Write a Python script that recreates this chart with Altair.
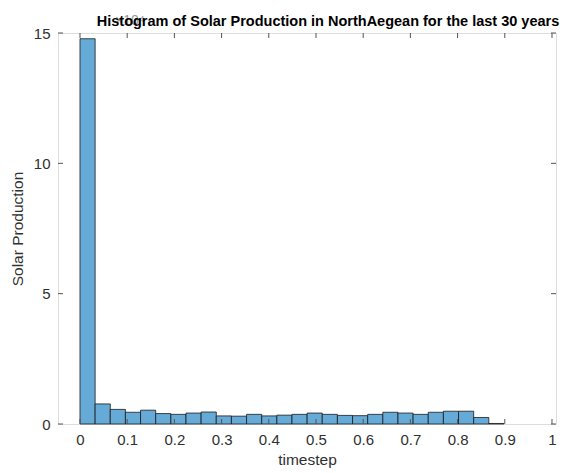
import altair as alt
import pandas as pd

# Histogram counts (in units of 10^4), 28 equal-width bins starting at 0
counts = [14.78, 0.77, 0.56, 0.45, 0.53, 0.40, 0.37, 0.42, 0.46, 0.31,
          0.30, 0.37, 0.31, 0.34, 0.37, 0.42, 0.37, 0.33, 0.32, 0.37,
          0.45, 0.42, 0.37, 0.45, 0.49, 0.49, 0.25, 0.02]
bin_width = 0.03208
x_ticks = [0, 0.1, 0.2, 0.3, 0.4, 0.5, 0.6, 0.7, 0.8, 0.9, 1]
y_ticks = [0, 5, 10, 15]
title_text = "Histogram of Solar Production in NorthAegean for the last 30 years"
x_title = "timestep"
y_title = "Solar Production"
exponent_text = "×10⁴"

bars = pd.DataFrame({
    "start": [i * bin_width for i in range(len(counts))],
    "end": [(i + 1) * bin_width for i in range(len(counts))],
    "value": counts,
})
xt = pd.DataFrame({"start": x_ticks})
yt = pd.DataFrame({"value": y_ticks})

FONT = "Liberation Sans"
W, H = 498, 391
xscale = alt.Scale(domain=[-0.0466, 1.0085], nice=False, zero=False)
yscale = alt.Scale(domain=[0, 15], nice=False)

xaxis = alt.Axis(values=x_ticks, format="~g", title=x_title,
                 grid=False, ticks=False, domain=False,
                 labelPadding=8, labelFontSize=15, labelColor="#303030",
                 labelFont=FONT, titleFont=FONT, titleFontSize=15.5,
                 titleFontWeight="normal", titleColor="#303030",
                 titlePadding=5)
yaxis = alt.Axis(values=y_ticks, title=y_title, grid=False,
                 ticks=False, domain=False, labelPadding=8,
                 labelFontSize=15, labelColor="#303030", labelFont=FONT,
                 titleFont=FONT, titleFontSize=15.5,
                 titleFontWeight="normal", titleColor="#303030",
                 titlePadding=8)

bar_layer = alt.Chart(bars).mark_rect(
    fill="#66AAD7", stroke="#1a1a1a", strokeWidth=0.8
).encode(
    x=alt.X("start:Q", scale=xscale, axis=xaxis),
    x2="end:Q",
    y=alt.Y("value:Q", scale=yscale, axis=yaxis),
    y2=alt.datum(0),
)

tick_style = dict(color="#555555", strokeWidth=1)
xt_bottom = alt.Chart(xt).mark_rule(**tick_style).encode(
    x=alt.X("start:Q", scale=xscale, axis=xaxis), y=alt.value(H), y2=alt.value(H - 5))
xt_top = alt.Chart(xt).mark_rule(**tick_style).encode(
    x=alt.X("start:Q", scale=xscale, axis=xaxis), y=alt.value(0), y2=alt.value(5))
yt_left = alt.Chart(yt).mark_rule(**tick_style).encode(
    y=alt.Y("value:Q", scale=yscale, axis=yaxis), x=alt.value(0), x2=alt.value(5))
yt_right = alt.Chart(yt).mark_rule(**tick_style).encode(
    y=alt.Y("value:Q", scale=yscale, axis=yaxis), x=alt.value(W), x2=alt.value(W - 5))

exp_layer = alt.Chart(pd.DataFrame({"s": [exponent_text]})).mark_text(
    align="left", baseline="middle", font=FONT, fontSize=14, color="#999999"
).encode(text="s:N", x=alt.value(57), y=alt.value(-12))

title_layer = alt.Chart(pd.DataFrame({"s": [title_text]})).mark_text(
    align="center", baseline="middle", font=FONT, fontSize=14.5,
    fontWeight="bold", color="#000000"
).encode(text="s:N", x=alt.value(W / 2 + 21), y=alt.value(-11))

chart = alt.layer(bar_layer, xt_bottom, xt_top, yt_left, yt_right,
                  exp_layer, title_layer).properties(
    width=W, height=H,
    autosize=alt.AutoSizeParams(type="none"),
    padding={"left": 58, "top": 33, "right": 20, "bottom": 48},
).configure_view(stroke="#808080", strokeWidth=1).configure(background="white")

chart.save("out.html", embed_options={"renderer": "svg", "actions": False})
